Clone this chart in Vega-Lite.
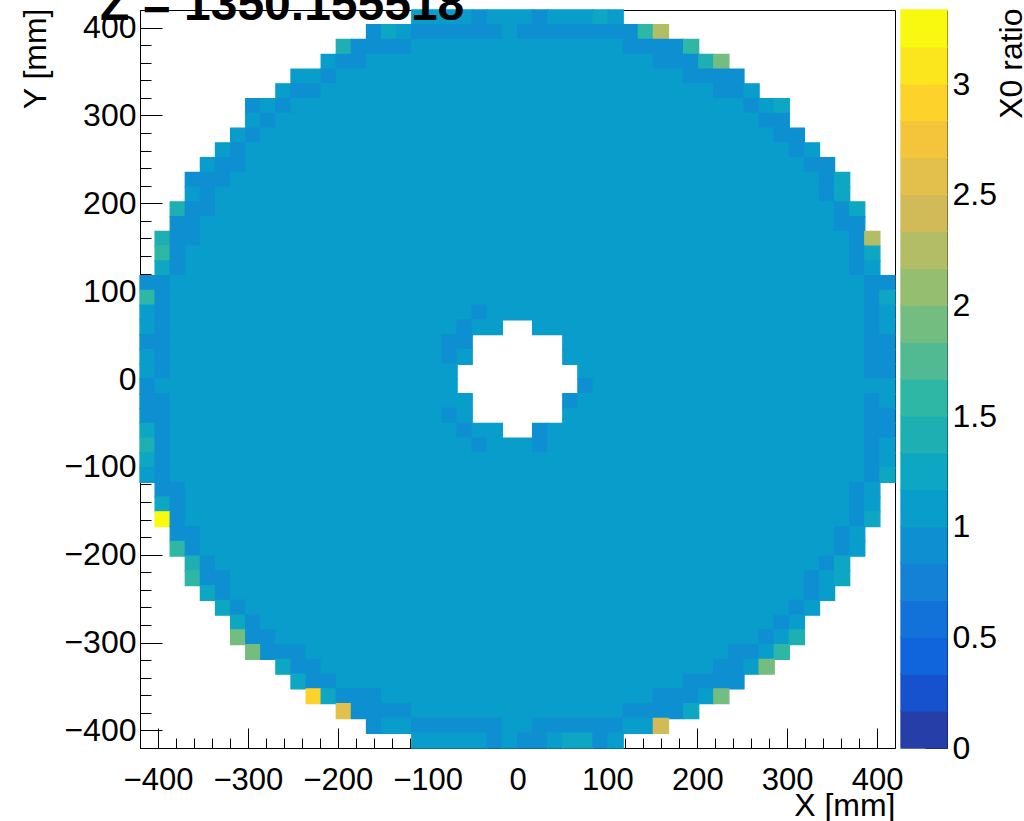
{
  "$schema": "https://vega.github.io/schema/vega-lite/v6.json",
  "autosize": {"type": "none"},
  "padding": {"left": 140, "top": 10, "right": 884, "bottom": 811},
  "background": "white",
  "title": {"text": "Z = 1350.155518", "anchor": "start", "frame": "group", "orient": "top", "fontSize": 48, "fontWeight": "bold", "font": "Liberation Sans", "color": "black", "baseline": "alphabetic", "offset": -74, "dx": -40},
  "spacing": 6,
  "bounds": "flush",
  "datasets": {
    "cells": [
      {"x0":-117.6,"x1":-50.4,"y0":403.2,"y1":420,"v":1.08},{"x0":-50.4,"x1":-33.6,"y0":403.2,"y1":420,"v":0.92},{"x0":-33.6,"x1":16.8,"y0":403.2,"y1":420,"v":1.08},{"x0":16.8,"x1":33.6,"y0":403.2,"y1":420,"v":0.92},{"x0":33.6,"x1":84,"y0":403.2,"y1":420,"v":1.08},{"x0":84,"x1":100.8,"y0":403.2,"y1":420,"v":1.25},{"x0":100.8,"x1":117.6,"y0":403.2,"y1":420,"v":1.08},
      {"x0":-168,"x1":-151.2,"y0":386.4,"y1":403.2,"v":0.92},{"x0":-151.2,"x1":-134.4,"y0":386.4,"y1":403.2,"v":1.25},{"x0":-134.4,"x1":-117.6,"y0":386.4,"y1":403.2,"v":1.08},{"x0":-117.6,"x1":-16.8,"y0":386.4,"y1":403.2,"v":0.92},{"x0":-16.8,"x1":0,"y0":386.4,"y1":403.2,"v":1.08},{"x0":0,"x1":134.4,"y0":386.4,"y1":403.2,"v":0.92},{"x0":134.4,"x1":151.2,"y0":386.4,"y1":403.2,"v":1.58},{"x0":151.2,"x1":168,"y0":386.4,"y1":403.2,"v":2.25},
      {"x0":-201.6,"x1":-184.8,"y0":369.6,"y1":386.4,"v":1.42},{"x0":-184.8,"x1":-117.6,"y0":369.6,"y1":386.4,"v":0.92},{"x0":-117.6,"x1":117.6,"y0":369.6,"y1":386.4,"v":1.08},{"x0":117.6,"x1":184.8,"y0":369.6,"y1":386.4,"v":0.92},{"x0":184.8,"x1":201.6,"y0":369.6,"y1":386.4,"v":1.58},
      {"x0":-218.4,"x1":-201.6,"y0":352.8,"y1":369.6,"v":1.08},{"x0":-201.6,"x1":-168,"y0":352.8,"y1":369.6,"v":0.92},{"x0":-168,"x1":151.2,"y0":352.8,"y1":369.6,"v":1.08},{"x0":151.2,"x1":201.6,"y0":352.8,"y1":369.6,"v":0.92},{"x0":201.6,"x1":218.4,"y0":352.8,"y1":369.6,"v":1.42},{"x0":218.4,"x1":235.2,"y0":352.8,"y1":369.6,"v":1.92},
      {"x0":-252,"x1":-218.4,"y0":336,"y1":352.8,"v":1.08},{"x0":-218.4,"x1":-201.6,"y0":336,"y1":352.8,"v":0.92},{"x0":-201.6,"x1":184.8,"y0":336,"y1":352.8,"v":1.08},{"x0":184.8,"x1":252,"y0":336,"y1":352.8,"v":0.92},
      {"x0":-268.8,"x1":-252,"y0":319.2,"y1":336,"v":1.08},{"x0":-252,"x1":-218.4,"y0":319.2,"y1":336,"v":0.92},{"x0":-218.4,"x1":218.4,"y0":319.2,"y1":336,"v":1.08},{"x0":218.4,"x1":252,"y0":319.2,"y1":336,"v":0.92},{"x0":252,"x1":268.8,"y0":319.2,"y1":336,"v":1.08},
      {"x0":-302.4,"x1":-285.6,"y0":302.4,"y1":319.2,"v":0.92},{"x0":-285.6,"x1":-268.8,"y0":302.4,"y1":319.2,"v":1.08},{"x0":-268.8,"x1":-252,"y0":302.4,"y1":319.2,"v":0.92},{"x0":-252,"x1":252,"y0":302.4,"y1":319.2,"v":1.08},{"x0":252,"x1":268.8,"y0":302.4,"y1":319.2,"v":0.92},{"x0":268.8,"x1":285.6,"y0":302.4,"y1":319.2,"v":1.08},{"x0":285.6,"x1":302.4,"y0":302.4,"y1":319.2,"v":1.25},
      {"x0":-302.4,"x1":-285.6,"y0":285.6,"y1":302.4,"v":1.08},{"x0":-285.6,"x1":-268.8,"y0":285.6,"y1":302.4,"v":0.92},{"x0":-268.8,"x1":268.8,"y0":285.6,"y1":302.4,"v":1.08},{"x0":268.8,"x1":302.4,"y0":285.6,"y1":302.4,"v":0.92},
      {"x0":-319.2,"x1":-302.4,"y0":268.8,"y1":285.6,"v":1.08},{"x0":-302.4,"x1":-285.6,"y0":268.8,"y1":285.6,"v":0.92},{"x0":-285.6,"x1":285.6,"y0":268.8,"y1":285.6,"v":1.08},{"x0":285.6,"x1":319.2,"y0":268.8,"y1":285.6,"v":0.92},
      {"x0":-336,"x1":-319.2,"y0":252,"y1":268.8,"v":1.08},{"x0":-319.2,"x1":-302.4,"y0":252,"y1":268.8,"v":0.92},{"x0":-302.4,"x1":302.4,"y0":252,"y1":268.8,"v":1.08},{"x0":302.4,"x1":319.2,"y0":252,"y1":268.8,"v":0.92},{"x0":319.2,"x1":336,"y0":252,"y1":268.8,"v":1.08},
      {"x0":-352.8,"x1":-336,"y0":235.2,"y1":252,"v":1.08},{"x0":-336,"x1":-302.4,"y0":235.2,"y1":252,"v":0.92},{"x0":-302.4,"x1":319.2,"y0":235.2,"y1":252,"v":1.08},{"x0":319.2,"x1":352.8,"y0":235.2,"y1":252,"v":0.92},
      {"x0":-369.6,"x1":-319.2,"y0":218.4,"y1":235.2,"v":0.92},{"x0":-319.2,"x1":336,"y0":218.4,"y1":235.2,"v":1.08},{"x0":336,"x1":352.8,"y0":218.4,"y1":235.2,"v":0.92},{"x0":352.8,"x1":369.6,"y0":218.4,"y1":235.2,"v":1.25},
      {"x0":-369.6,"x1":-352.8,"y0":201.6,"y1":218.4,"v":1.08},{"x0":-352.8,"x1":-336,"y0":201.6,"y1":218.4,"v":0.92},{"x0":-336,"x1":336,"y0":201.6,"y1":218.4,"v":1.08},{"x0":336,"x1":352.8,"y0":201.6,"y1":218.4,"v":0.92},{"x0":352.8,"x1":369.6,"y0":201.6,"y1":218.4,"v":1.25},
      {"x0":-386.4,"x1":-369.6,"y0":184.8,"y1":201.6,"v":1.42},{"x0":-369.6,"x1":-336,"y0":184.8,"y1":201.6,"v":0.92},{"x0":-336,"x1":352.8,"y0":184.8,"y1":201.6,"v":1.08},{"x0":352.8,"x1":369.6,"y0":184.8,"y1":201.6,"v":0.92},{"x0":369.6,"x1":386.4,"y0":184.8,"y1":201.6,"v":1.25},
      {"x0":-386.4,"x1":-352.8,"y0":168,"y1":184.8,"v":0.92},{"x0":-352.8,"x1":352.8,"y0":168,"y1":184.8,"v":1.08},{"x0":352.8,"x1":386.4,"y0":168,"y1":184.8,"v":0.92},
      {"x0":-403.2,"x1":-386.4,"y0":151.2,"y1":168,"v":1.42},{"x0":-386.4,"x1":-352.8,"y0":151.2,"y1":168,"v":0.92},{"x0":-352.8,"x1":369.6,"y0":151.2,"y1":168,"v":1.08},{"x0":369.6,"x1":386.4,"y0":151.2,"y1":168,"v":0.92},{"x0":386.4,"x1":403.2,"y0":151.2,"y1":168,"v":2.25},
      {"x0":-403.2,"x1":-386.4,"y0":134.4,"y1":151.2,"v":1.58},{"x0":-386.4,"x1":-369.6,"y0":134.4,"y1":151.2,"v":0.92},{"x0":-369.6,"x1":369.6,"y0":134.4,"y1":151.2,"v":1.08},{"x0":369.6,"x1":386.4,"y0":134.4,"y1":151.2,"v":0.92},{"x0":386.4,"x1":403.2,"y0":134.4,"y1":151.2,"v":1.25},
      {"x0":-403.2,"x1":-386.4,"y0":117.6,"y1":134.4,"v":1.25},{"x0":-386.4,"x1":-369.6,"y0":117.6,"y1":134.4,"v":0.92},{"x0":-369.6,"x1":369.6,"y0":117.6,"y1":134.4,"v":1.08},{"x0":369.6,"x1":386.4,"y0":117.6,"y1":134.4,"v":0.92},{"x0":386.4,"x1":403.2,"y0":117.6,"y1":134.4,"v":1.08},
      {"x0":-420,"x1":-386.4,"y0":100.8,"y1":117.6,"v":0.92},{"x0":-386.4,"x1":386.4,"y0":100.8,"y1":117.6,"v":1.08},{"x0":386.4,"x1":420,"y0":100.8,"y1":117.6,"v":0.92},
      {"x0":-420,"x1":-403.2,"y0":84,"y1":100.8,"v":1.58},{"x0":-403.2,"x1":-386.4,"y0":84,"y1":100.8,"v":0.92},{"x0":-386.4,"x1":386.4,"y0":84,"y1":100.8,"v":1.08},{"x0":386.4,"x1":403.2,"y0":84,"y1":100.8,"v":0.92},{"x0":403.2,"x1":420,"y0":84,"y1":100.8,"v":1.25},
      {"x0":-420,"x1":-403.2,"y0":67.2,"y1":84,"v":1.08},{"x0":-403.2,"x1":-386.4,"y0":67.2,"y1":84,"v":0.92},{"x0":-386.4,"x1":-50.4,"y0":67.2,"y1":84,"v":1.08},{"x0":-50.4,"x1":-33.6,"y0":67.2,"y1":84,"v":0.92},{"x0":-33.6,"x1":386.4,"y0":67.2,"y1":84,"v":1.08},{"x0":386.4,"x1":403.2,"y0":67.2,"y1":84,"v":0.92},{"x0":403.2,"x1":420,"y0":67.2,"y1":84,"v":1.08},
      {"x0":-420,"x1":-403.2,"y0":50.4,"y1":67.2,"v":1.08},{"x0":-403.2,"x1":-386.4,"y0":50.4,"y1":67.2,"v":0.92},{"x0":-386.4,"x1":-67.2,"y0":50.4,"y1":67.2,"v":1.08},{"x0":-67.2,"x1":-50.4,"y0":50.4,"y1":67.2,"v":0.92},{"x0":-50.4,"x1":-16.8,"y0":50.4,"y1":67.2,"v":1.08},{"x0":16.8,"x1":386.4,"y0":50.4,"y1":67.2,"v":1.08},{"x0":386.4,"x1":403.2,"y0":50.4,"y1":67.2,"v":0.92},{"x0":403.2,"x1":420,"y0":50.4,"y1":67.2,"v":1.08},
      {"x0":-420,"x1":-386.4,"y0":33.6,"y1":50.4,"v":0.92},{"x0":-386.4,"x1":-84,"y0":33.6,"y1":50.4,"v":1.08},{"x0":-84,"x1":-50.4,"y0":33.6,"y1":50.4,"v":0.92},{"x0":50.4,"x1":386.4,"y0":33.6,"y1":50.4,"v":1.08},{"x0":386.4,"x1":420,"y0":33.6,"y1":50.4,"v":0.92},
      {"x0":-420,"x1":-403.2,"y0":16.8,"y1":33.6,"v":1.08},{"x0":-403.2,"x1":-386.4,"y0":16.8,"y1":33.6,"v":0.92},{"x0":-386.4,"x1":-84,"y0":16.8,"y1":33.6,"v":1.08},{"x0":-84,"x1":-67.2,"y0":16.8,"y1":33.6,"v":0.92},{"x0":-67.2,"x1":-50.4,"y0":16.8,"y1":33.6,"v":1.08},{"x0":50.4,"x1":386.4,"y0":16.8,"y1":33.6,"v":1.08},{"x0":386.4,"x1":420,"y0":16.8,"y1":33.6,"v":0.92},
      {"x0":-420,"x1":-403.2,"y0":0,"y1":16.8,"v":1.08},{"x0":-403.2,"x1":-386.4,"y0":0,"y1":16.8,"v":0.92},{"x0":-386.4,"x1":-67.2,"y0":0,"y1":16.8,"v":1.08},{"x0":67.2,"x1":386.4,"y0":0,"y1":16.8,"v":1.08},{"x0":386.4,"x1":420,"y0":0,"y1":16.8,"v":0.92},
      {"x0":-420,"x1":-403.2,"y0":-16.8,"y1":0,"v":0.92},{"x0":-403.2,"x1":-67.2,"y0":-16.8,"y1":0,"v":1.08},{"x0":67.2,"x1":84,"y0":-16.8,"y1":0,"v":0.92},{"x0":84,"x1":420,"y0":-16.8,"y1":0,"v":1.08},
      {"x0":-420,"x1":-386.4,"y0":-33.6,"y1":-16.8,"v":0.92},{"x0":-386.4,"x1":-50.4,"y0":-33.6,"y1":-16.8,"v":1.08},{"x0":50.4,"x1":67.2,"y0":-33.6,"y1":-16.8,"v":0.92},{"x0":67.2,"x1":386.4,"y0":-33.6,"y1":-16.8,"v":1.08},{"x0":386.4,"x1":403.2,"y0":-33.6,"y1":-16.8,"v":0.92},{"x0":403.2,"x1":420,"y0":-33.6,"y1":-16.8,"v":1.08},
      {"x0":-420,"x1":-386.4,"y0":-50.4,"y1":-33.6,"v":0.92},{"x0":-386.4,"x1":-84,"y0":-50.4,"y1":-33.6,"v":1.08},{"x0":-84,"x1":-67.2,"y0":-50.4,"y1":-33.6,"v":0.92},{"x0":-67.2,"x1":-50.4,"y0":-50.4,"y1":-33.6,"v":1.08},{"x0":50.4,"x1":386.4,"y0":-50.4,"y1":-33.6,"v":1.08},{"x0":386.4,"x1":420,"y0":-50.4,"y1":-33.6,"v":0.92},
      {"x0":-420,"x1":-403.2,"y0":-67.2,"y1":-50.4,"v":1.25},{"x0":-403.2,"x1":-386.4,"y0":-67.2,"y1":-50.4,"v":0.92},{"x0":-386.4,"x1":-67.2,"y0":-67.2,"y1":-50.4,"v":1.08},{"x0":-67.2,"x1":-50.4,"y0":-67.2,"y1":-50.4,"v":0.92},{"x0":-50.4,"x1":-16.8,"y0":-67.2,"y1":-50.4,"v":1.08},{"x0":16.8,"x1":33.6,"y0":-67.2,"y1":-50.4,"v":0.92},{"x0":33.6,"x1":386.4,"y0":-67.2,"y1":-50.4,"v":1.08},{"x0":386.4,"x1":420,"y0":-67.2,"y1":-50.4,"v":0.92},
      {"x0":-420,"x1":-403.2,"y0":-84,"y1":-67.2,"v":1.42},{"x0":-403.2,"x1":-386.4,"y0":-84,"y1":-67.2,"v":0.92},{"x0":-386.4,"x1":-50.4,"y0":-84,"y1":-67.2,"v":1.08},{"x0":-50.4,"x1":-33.6,"y0":-84,"y1":-67.2,"v":0.92},{"x0":-33.6,"x1":16.8,"y0":-84,"y1":-67.2,"v":1.08},{"x0":16.8,"x1":33.6,"y0":-84,"y1":-67.2,"v":0.92},{"x0":33.6,"x1":386.4,"y0":-84,"y1":-67.2,"v":1.08},{"x0":386.4,"x1":403.2,"y0":-84,"y1":-67.2,"v":0.92},{"x0":403.2,"x1":420,"y0":-84,"y1":-67.2,"v":1.08},
      {"x0":-420,"x1":-403.2,"y0":-100.8,"y1":-84,"v":1.25},{"x0":-403.2,"x1":-386.4,"y0":-100.8,"y1":-84,"v":0.92},{"x0":-386.4,"x1":386.4,"y0":-100.8,"y1":-84,"v":1.08},{"x0":386.4,"x1":403.2,"y0":-100.8,"y1":-84,"v":0.92},{"x0":403.2,"x1":420,"y0":-100.8,"y1":-84,"v":1.08},
      {"x0":-420,"x1":-403.2,"y0":-117.6,"y1":-100.8,"v":1.08},{"x0":-403.2,"x1":-386.4,"y0":-117.6,"y1":-100.8,"v":0.92},{"x0":-386.4,"x1":386.4,"y0":-117.6,"y1":-100.8,"v":1.08},{"x0":386.4,"x1":403.2,"y0":-117.6,"y1":-100.8,"v":0.92},{"x0":403.2,"x1":420,"y0":-117.6,"y1":-100.8,"v":1.25},
      {"x0":-403.2,"x1":-369.6,"y0":-134.4,"y1":-117.6,"v":0.92},{"x0":-369.6,"x1":369.6,"y0":-134.4,"y1":-117.6,"v":1.08},{"x0":369.6,"x1":386.4,"y0":-134.4,"y1":-117.6,"v":0.92},{"x0":386.4,"x1":403.2,"y0":-134.4,"y1":-117.6,"v":1.08},
      {"x0":-403.2,"x1":-386.4,"y0":-151.2,"y1":-134.4,"v":1.25},{"x0":-386.4,"x1":-369.6,"y0":-151.2,"y1":-134.4,"v":0.92},{"x0":-369.6,"x1":369.6,"y0":-151.2,"y1":-134.4,"v":1.08},{"x0":369.6,"x1":386.4,"y0":-151.2,"y1":-134.4,"v":0.92},{"x0":386.4,"x1":403.2,"y0":-151.2,"y1":-134.4,"v":1.08},
      {"x0":-403.2,"x1":-386.4,"y0":-168,"y1":-151.2,"v":3.33},{"x0":-386.4,"x1":-369.6,"y0":-168,"y1":-151.2,"v":0.92},{"x0":-369.6,"x1":369.6,"y0":-168,"y1":-151.2,"v":1.08},{"x0":369.6,"x1":386.4,"y0":-168,"y1":-151.2,"v":0.92},{"x0":386.4,"x1":403.2,"y0":-168,"y1":-151.2,"v":1.25},
      {"x0":-386.4,"x1":-352.8,"y0":-184.8,"y1":-168,"v":0.92},{"x0":-352.8,"x1":352.8,"y0":-184.8,"y1":-168,"v":1.08},{"x0":352.8,"x1":369.6,"y0":-184.8,"y1":-168,"v":0.92},{"x0":369.6,"x1":386.4,"y0":-184.8,"y1":-168,"v":1.08},
      {"x0":-386.4,"x1":-369.6,"y0":-201.6,"y1":-184.8,"v":1.58},{"x0":-369.6,"x1":-352.8,"y0":-201.6,"y1":-184.8,"v":0.92},{"x0":-352.8,"x1":352.8,"y0":-201.6,"y1":-184.8,"v":1.08},{"x0":352.8,"x1":369.6,"y0":-201.6,"y1":-184.8,"v":0.92},{"x0":369.6,"x1":386.4,"y0":-201.6,"y1":-184.8,"v":1.08},
      {"x0":-369.6,"x1":-352.8,"y0":-218.4,"y1":-201.6,"v":1.42},{"x0":-352.8,"x1":-336,"y0":-218.4,"y1":-201.6,"v":0.92},{"x0":-336,"x1":336,"y0":-218.4,"y1":-201.6,"v":1.08},{"x0":336,"x1":352.8,"y0":-218.4,"y1":-201.6,"v":0.92},{"x0":352.8,"x1":369.6,"y0":-218.4,"y1":-201.6,"v":1.25},
      {"x0":-369.6,"x1":-352.8,"y0":-235.2,"y1":-218.4,"v":1.58},{"x0":-352.8,"x1":-319.2,"y0":-235.2,"y1":-218.4,"v":0.92},{"x0":-319.2,"x1":319.2,"y0":-235.2,"y1":-218.4,"v":1.08},{"x0":319.2,"x1":336,"y0":-235.2,"y1":-218.4,"v":0.92},{"x0":336,"x1":352.8,"y0":-235.2,"y1":-218.4,"v":1.08},{"x0":352.8,"x1":369.6,"y0":-235.2,"y1":-218.4,"v":1.25},
      {"x0":-352.8,"x1":-336,"y0":-252,"y1":-235.2,"v":1.25},{"x0":-336,"x1":-319.2,"y0":-252,"y1":-235.2,"v":0.92},{"x0":-319.2,"x1":319.2,"y0":-252,"y1":-235.2,"v":1.08},{"x0":319.2,"x1":336,"y0":-252,"y1":-235.2,"v":0.92},{"x0":336,"x1":352.8,"y0":-252,"y1":-235.2,"v":1.08},
      {"x0":-336,"x1":-319.2,"y0":-268.8,"y1":-252,"v":1.25},{"x0":-319.2,"x1":-302.4,"y0":-268.8,"y1":-252,"v":0.92},{"x0":-302.4,"x1":302.4,"y0":-268.8,"y1":-252,"v":1.08},{"x0":302.4,"x1":319.2,"y0":-268.8,"y1":-252,"v":0.92},{"x0":319.2,"x1":336,"y0":-268.8,"y1":-252,"v":1.08},
      {"x0":-319.2,"x1":-302.4,"y0":-285.6,"y1":-268.8,"v":1.25},{"x0":-302.4,"x1":-285.6,"y0":-285.6,"y1":-268.8,"v":0.92},{"x0":-285.6,"x1":285.6,"y0":-285.6,"y1":-268.8,"v":1.08},{"x0":285.6,"x1":302.4,"y0":-285.6,"y1":-268.8,"v":0.92},{"x0":302.4,"x1":319.2,"y0":-285.6,"y1":-268.8,"v":1.08},
      {"x0":-319.2,"x1":-302.4,"y0":-302.4,"y1":-285.6,"v":1.92},{"x0":-302.4,"x1":-268.8,"y0":-302.4,"y1":-285.6,"v":0.92},{"x0":-268.8,"x1":268.8,"y0":-302.4,"y1":-285.6,"v":1.08},{"x0":268.8,"x1":285.6,"y0":-302.4,"y1":-285.6,"v":0.92},{"x0":285.6,"x1":302.4,"y0":-302.4,"y1":-285.6,"v":1.08},{"x0":302.4,"x1":319.2,"y0":-302.4,"y1":-285.6,"v":1.42},
      {"x0":-302.4,"x1":-285.6,"y0":-319.2,"y1":-302.4,"v":1.92},{"x0":-285.6,"x1":-235.2,"y0":-319.2,"y1":-302.4,"v":0.92},{"x0":-235.2,"x1":235.2,"y0":-319.2,"y1":-302.4,"v":1.08},{"x0":235.2,"x1":268.8,"y0":-319.2,"y1":-302.4,"v":0.92},{"x0":268.8,"x1":285.6,"y0":-319.2,"y1":-302.4,"v":1.08},{"x0":285.6,"x1":302.4,"y0":-319.2,"y1":-302.4,"v":1.58},
      {"x0":-268.8,"x1":-252,"y0":-336,"y1":-319.2,"v":1.25},{"x0":-252,"x1":-218.4,"y0":-336,"y1":-319.2,"v":0.92},{"x0":-218.4,"x1":218.4,"y0":-336,"y1":-319.2,"v":1.08},{"x0":218.4,"x1":252,"y0":-336,"y1":-319.2,"v":0.92},{"x0":252,"x1":268.8,"y0":-336,"y1":-319.2,"v":1.08},{"x0":268.8,"x1":285.6,"y0":-336,"y1":-319.2,"v":1.92},
      {"x0":-252,"x1":-235.2,"y0":-352.8,"y1":-336,"v":1.25},{"x0":-235.2,"x1":-201.6,"y0":-352.8,"y1":-336,"v":0.92},{"x0":-201.6,"x1":184.8,"y0":-352.8,"y1":-336,"v":1.08},{"x0":184.8,"x1":252,"y0":-352.8,"y1":-336,"v":0.92},
      {"x0":-235.2,"x1":-218.4,"y0":-369.6,"y1":-352.8,"v":2.92},{"x0":-218.4,"x1":-201.6,"y0":-369.6,"y1":-352.8,"v":1.25},{"x0":-201.6,"x1":-151.2,"y0":-369.6,"y1":-352.8,"v":0.92},{"x0":-151.2,"x1":151.2,"y0":-369.6,"y1":-352.8,"v":1.08},{"x0":151.2,"x1":201.6,"y0":-369.6,"y1":-352.8,"v":0.92},{"x0":201.6,"x1":218.4,"y0":-369.6,"y1":-352.8,"v":1.08},{"x0":218.4,"x1":235.2,"y0":-369.6,"y1":-352.8,"v":1.92},
      {"x0":-201.6,"x1":-184.8,"y0":-386.4,"y1":-369.6,"v":2.58},{"x0":-184.8,"x1":-117.6,"y0":-386.4,"y1":-369.6,"v":0.92},{"x0":-117.6,"x1":117.6,"y0":-386.4,"y1":-369.6,"v":1.08},{"x0":117.6,"x1":184.8,"y0":-386.4,"y1":-369.6,"v":0.92},{"x0":184.8,"x1":201.6,"y0":-386.4,"y1":-369.6,"v":1.25},
      {"x0":-168,"x1":-151.2,"y0":-403.2,"y1":-386.4,"v":0.92},{"x0":-151.2,"x1":-117.6,"y0":-403.2,"y1":-386.4,"v":1.08},{"x0":-117.6,"x1":-16.8,"y0":-403.2,"y1":-386.4,"v":0.92},{"x0":-16.8,"x1":16.8,"y0":-403.2,"y1":-386.4,"v":1.08},{"x0":16.8,"x1":117.6,"y0":-403.2,"y1":-386.4,"v":0.92},{"x0":117.6,"x1":151.2,"y0":-403.2,"y1":-386.4,"v":1.08},{"x0":151.2,"x1":168,"y0":-403.2,"y1":-386.4,"v":2.42},
      {"x0":-117.6,"x1":-33.6,"y0":-420,"y1":-403.2,"v":1.08},{"x0":-33.6,"x1":-16.8,"y0":-420,"y1":-403.2,"v":0.92},{"x0":-16.8,"x1":0,"y0":-420,"y1":-403.2,"v":1.08},{"x0":0,"x1":33.6,"y0":-420,"y1":-403.2,"v":0.92},{"x0":33.6,"x1":50.4,"y0":-420,"y1":-403.2,"v":1.08},{"x0":50.4,"x1":84,"y0":-420,"y1":-403.2,"v":1.25},{"x0":84,"x1":100.8,"y0":-420,"y1":-403.2,"v":0.92},{"x0":100.8,"x1":117.6,"y0":-420,"y1":-403.2,"v":1.08}
    ],
    "bar": [
      {"lo":0,"hi":0.16675,"v":0.083},{"lo":0.16675,"hi":0.3335,"v":0.25},{"lo":0.3335,"hi":0.50025,"v":0.417},{"lo":0.50025,"hi":0.667,"v":0.583},
      {"lo":0.667,"hi":0.83375,"v":0.75},{"lo":0.83375,"hi":1.0005,"v":0.917},{"lo":1.0005,"hi":1.16725,"v":1.084},{"lo":1.16725,"hi":1.334,"v":1.25},
      {"lo":1.334,"hi":1.50075,"v":1.417},{"lo":1.50075,"hi":1.6675,"v":1.584},{"lo":1.6675,"hi":1.83425,"v":1.75},{"lo":1.83425,"hi":2.001,"v":1.917},
      {"lo":2.001,"hi":2.16775,"v":2.084},{"lo":2.16775,"hi":2.3345,"v":2.25},{"lo":2.3345,"hi":2.50125,"v":2.417},{"lo":2.50125,"hi":2.668,"v":2.584},
      {"lo":2.668,"hi":2.83475,"v":2.75},{"lo":2.83475,"hi":3.0015,"v":2.917},{"lo":3.0015,"hi":3.16825,"v":3.084},{"lo":3.16825,"hi":3.335,"v":3.25}
    ]
  },
  "hconcat": [
    {
      "width": 755,
      "height": 738,
      "data": {"name": "cells"},
      "mark": {"type": "rect", "strokeWidth": 1.3},
      "encoding": {
        "x": {"field": "x0", "type": "quantitative", "scale": {"domain": [-420, 420], "nice": false, "zero": false},
          "axis": {"orient": "bottom", "title": "X [mm]",
            "values": [-420,-400,-380,-360,-340,-320,-300,-280,-260,-240,-220,-200,-180,-160,-140,-120,-100,-80,-60,-40,-20,0,20,40,60,80,100,120,140,160,180,200,220,240,260,280,300,320,340,360,380,400,420],
            "labelExpr": "datum.value % 100 === 0 ? datum.label : ''",
            "tickSize": {"condition": {"test": "datum.value % 100 === 0", "value": -20}, "value": -10},
            "labelPadding": 61, "labelBaseline": "alphabetic", "labelFontSize": 31,
            "labelFlush": false, "labelOverlap": false,
            "titleX": 755, "titleY": 67, "titleAlign": "right", "titleBaseline": "alphabetic", "titleAngle": 0, "titleFontSize": 32}},
        "x2": {"field": "x1"},
        "y": {"field": "y0", "type": "quantitative", "scale": {"domain": [-420, 420], "nice": false, "zero": false},
          "axis": {"orient": "left", "title": "Y [mm]",
            "values": [-420,-400,-380,-360,-340,-320,-300,-280,-260,-240,-220,-200,-180,-160,-140,-120,-100,-80,-60,-40,-20,0,20,40,60,80,100,120,140,160,180,200,220,240,260,280,300,320,340,360,380,400,420],
            "labelExpr": "datum.value % 100 === 0 ? datum.label : ''",
            "tickSize": {"condition": {"test": "datum.value % 100 === 0", "value": -22}, "value": -11},
            "labelPadding": 26, "labelFontSize": 32, "labelFlush": false, "labelOverlap": false,
            "titleX": -95, "titleY": -2, "titleAngle": 270, "titleAlign": "right", "titleBaseline": "alphabetic", "titleFontSize": 32}},
        "y2": {"field": "y1"},
        "color": {"field": "v", "type": "quantitative", "legend": null,
          "scale": {"type": "threshold", "domain": [0.16675,0.3335,0.50025,0.667,0.83375,1.0005,1.16725,1.334,1.50075,1.6675,1.83425,2.001,2.16775,2.3345,2.50125,2.668,2.83475,3.0015,3.16825],
            "range": ["#263ea8","#1652cd","#1064dc","#1272d9","#1481d6","#0e8fd1","#099dcc","#0da7c3","#1eafb3","#2eb7a4","#52ba92","#74bd81","#95be71","#b3bd65","#d1bb59","#e2c04b","#f4c53b","#fdd22b","#fbe61d","#f9f90f"]}},
        "stroke": {"field": "v", "type": "quantitative", "legend": null,
          "scale": {"type": "threshold", "domain": [0.16675,0.3335,0.50025,0.667,0.83375,1.0005,1.16725,1.334,1.50075,1.6675,1.83425,2.001,2.16775,2.3345,2.50125,2.668,2.83475,3.0015,3.16825],
            "range": ["#263ea8","#1652cd","#1064dc","#1272d9","#1481d6","#0e8fd1","#099dcc","#0da7c3","#1eafb3","#2eb7a4","#52ba92","#74bd81","#95be71","#b3bd65","#d1bb59","#e2c04b","#f4c53b","#fdd22b","#fbe61d","#f9f90f"]}}
      }
    },
    {
      "width": 46,
      "height": 738,
      "view": {"stroke": null},
      "data": {"name": "bar"},
      "mark": {"type": "rect", "strokeWidth": 1.3},
      "encoding": {
        "y": {"field": "lo", "type": "quantitative", "scale": {"domain": [0, 3.335], "nice": false, "zero": false},
          "axis": {"orient": "right", "title": "X0 ratio", "values": [0,0.5,1,1.5,2,2.5,3], "format": "~g",
            "tickSize": -22, "labelPadding": 27, "labelFontSize": 32, "labelFlush": false, "labelOverlap": false,
            "titleX": 74, "titleY": -2, "titleAngle": 270, "titleAlign": "right", "titleBaseline": "alphabetic", "titleFontSize": 32}},
        "y2": {"field": "hi"},
        "color": {"field": "v", "type": "quantitative", "legend": null,
          "scale": {"type": "threshold", "domain": [0.16675,0.3335,0.50025,0.667,0.83375,1.0005,1.16725,1.334,1.50075,1.6675,1.83425,2.001,2.16775,2.3345,2.50125,2.668,2.83475,3.0015,3.16825],
            "range": ["#263ea8","#1652cd","#1064dc","#1272d9","#1481d6","#0e8fd1","#099dcc","#0da7c3","#1eafb3","#2eb7a4","#52ba92","#74bd81","#95be71","#b3bd65","#d1bb59","#e2c04b","#f4c53b","#fdd22b","#fbe61d","#f9f90f"]}},
        "stroke": {"field": "v", "type": "quantitative", "legend": null,
          "scale": {"type": "threshold", "domain": [0.16675,0.3335,0.50025,0.667,0.83375,1.0005,1.16725,1.334,1.50075,1.6675,1.83425,2.001,2.16775,2.3345,2.50125,2.668,2.83475,3.0015,3.16825],
            "range": ["#263ea8","#1652cd","#1064dc","#1272d9","#1481d6","#0e8fd1","#099dcc","#0da7c3","#1eafb3","#2eb7a4","#52ba92","#74bd81","#95be71","#b3bd65","#d1bb59","#e2c04b","#f4c53b","#fdd22b","#fbe61d","#f9f90f"]}}
      }
    }
  ],
  "config": {
    "font": "Liberation Sans",
    "view": {"stroke": "#000000", "strokeWidth": 1},
    "axis": {"domainColor": "#000000", "domainWidth": 1, "tickColor": "#000000", "tickWidth": 1, "labelColor": "#000000", "titleColor": "#000000", "grid": false, "labelFont": "Liberation Sans", "titleFont": "Liberation Sans", "titleFontWeight": "normal"}
  }
}
